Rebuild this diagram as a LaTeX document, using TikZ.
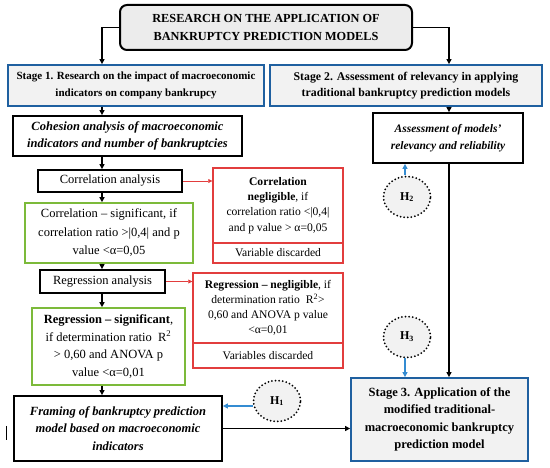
\documentclass[tikz,border=0pt]{standalone}
\usepackage{fontspec}
\setmainfont{Liberation Serif}
\usetikzlibrary{arrows.meta,shapes.geometric}
\definecolor{stageblue}{RGB}{31,96,160}
\definecolor{negred}{RGB}{226,61,61}
\definecolor{siggreen}{RGB}{124,186,58}
\definecolor{hypblue}{RGB}{52,140,210}
\definecolor{boxgray}{RGB}{242,242,242}
\tikzset{
    common/.style={draw, rectangle, inner sep=0pt, align=center},
    titlebox/.style={common, line width=2pt, rounded corners=7pt, fill=gray!15, font=\fontsize{12.3}{17.5}\selectfont\bfseries},
    stagebox/.style={common, draw=stageblue, line width=1.8pt, fill=boxgray, font=\fontsize{11}{16.5}\selectfont\bfseries},
    stepbox/.style={common, line width=1.8pt, font=\fontsize{12.5}{17.5}\selectfont\bfseries\itshape},
    plainbox/.style={common, line width=1.8pt, font=\fontsize{12.5}{14}\selectfont},
    sigbox/.style={common, draw=siggreen, line width=1.6pt, font=\fontsize{12.5}{18.5}\selectfont},
    negbox/.style={common, draw=negred, line width=1.4pt, font=\fontsize{11.6}{15.2}\selectfont},
    hyp/.style={ellipse, draw, line width=2pt, dash pattern=on 0pt off 3.6pt, line cap=round, fill=boxgray,
        minimum width=47pt, minimum height=41pt, inner sep=0pt, font=\fontsize{12}{13}\selectfont\bfseries},
    flow/.style={-{Triangle[length=5pt,width=5pt]}, line width=1.4pt},
    reject/.style={-{Triangle[length=4pt,width=4pt]}, negred, line width=0.7pt},
    hyparrow/.style={-{Triangle[length=5pt,width=5pt]}, hypblue, line width=1.4pt}
}
\begin{document}
\begin{tikzpicture}[x=1pt, y=-1pt]
    \useasboundingbox (0,0) rectangle (550,468);
    \coordinate (col) at (102,0);
    \coordinate (rcol) at (449,0);

    % top and stages
    \node[titlebox, minimum width=292, minimum height=45] (title) at (266,27.5)
        {RESEARCH ON THE APPLICATION OF\\BANKRUPTCY PREDICTION MODELS};
    \node[stagebox, minimum width=256, minimum height=41] (stage1) at (136,85.5)
        {Stage 1. Research on the impact of macroeconomic\\indicators on company bankrupcy};
    \node[stagebox, font=\fontsize{11.8}{16.5}\selectfont\bfseries, minimum width=272, minimum height=41] (stage2) at (406,85.5)
        {Stage 2. Assessment of relevancy in applying\\traditional bankruptcy prediction models};

    % left column
    \node[stepbox, minimum width=229, minimum height=40] (cohesion) at (127.5,136)
        {Cohesion analysis of macroeconomic\\indicators and number of bankruptcies};
    \node[plainbox, minimum width=144, minimum height=22] (corr) at (110,181) {Correlation analysis};
    \node[sigbox, minimum width=168, minimum height=60] (corrsig) at (109,233)
        {Correlation -- significant, if\\correlation ratio >|0,4| and p\\value <α=0,05};
    \node[plainbox, minimum width=125, minimum height=23] (reg) at (102.5,281.5) {Regression analysis};
    \node[sigbox, font=\fontsize{12.5}{17.5}\selectfont, minimum width=153, minimum height=77] (regsig) at (108.5,346.5)
        {\textbf{Regression -- significant},\\if determination ratio~~R\textsuperscript{2}\\> 0,60 and ANOVA p\\value <α=0,01};
    \node[stepbox, minimum width=208, minimum height=65] (frame) at (118,428.5)
        {Framing of bankruptcy prediction\\model based on macroeconomic\\indicators};

    % rejected variables
    \node[negbox, minimum width=130, minimum height=75] (corrneg) at (278,205.5)
        {\textbf{Correlation}\\\textbf{negligible}, if\\correlation ratio <|0,4|\\and p value > α=0,05};
    \node[negbox, minimum width=130, minimum height=20] (corrdisc) at (278,253) {Variable discarded};
    \node[negbox, minimum width=150, minimum height=70] (regneg) at (268,308)
        {\textbf{Regression -- negligible}, if\\determination ratio~~R\textsuperscript{2}>\\0,60 and ANOVA p value\\<α=0,01};
    \node[negbox, minimum width=150, minimum height=25] (regdisc) at (268,355.5) {Variables discarded};

    % right column
    \node[stepbox, font=\fontsize{11.5}{17}\selectfont\bfseries\itshape, minimum width=150, minimum height=50] (assess) at (448,138)
        {Assessment of models’\\relevancy and reliability};
    \node[stagebox, font=\fontsize{12.5}{17.5}\selectfont\bfseries, minimum width=177, minimum height=83] (stage3) at (439.5,419.5)
        {Stage 3. Application of the\\modified traditional-\\macroeconomic bankruptcy\\prediction model};

    % hypotheses
    \node[hyp] (H2) at (407,197) {H\textsubscript{2}};
    \node[hyp] (H3) at (407,337) {H\textsubscript{3}};
    \node[hyp] (H1) at (277,401) {H\textsubscript{1}};

    \draw[flow] (title.west) -| (col |- stage1.north);
    \draw[flow] (title.east) -| (rcol |- stage2.north);
    \draw[flow] (col |- stage1.south) -- (col |- cohesion.north);
    \draw[flow] (col |- cohesion.south) -- (col |- corr.north);
    \draw[flow] (col |- corr.south) -- (col |- corrsig.north);
    \draw[flow] (col |- corrsig.south) -- (col |- reg.north);
    \draw[flow] (col |- reg.south) -- (col |- regsig.north);
    \draw[flow] (col |- regsig.south) -- (col |- frame.north);
    \draw[reject] (corr.east) -- (corr.east -| corrneg.west);
    \draw[reject] (reg.east) -- (reg.east -| regneg.west);
    \draw[flow] (rcol |- stage2.south) -- (rcol |- assess.north);
    \draw[flow] (rcol |- assess.south) -- (rcol |- stage3.north);
    \draw[flow] (frame.east) -- (frame.east -| stage3.west);
    \draw[hyparrow] ([xshift=-2pt]H2.north) -- ([xshift=-2pt]H2.north |- assess.south);
    \draw[hyparrow] ([xshift=-2pt]H3.south) -- ([xshift=-2pt]H3.south |- stage3.north);
    \draw[hyparrow] ([yshift=-5pt]H1.west) -- ([yshift=-5pt]H1.west -| frame.east);

    % stray mark
    \draw[line width=0.8pt] (6,426) -- (6,440);
\end{tikzpicture}
\end{document}
